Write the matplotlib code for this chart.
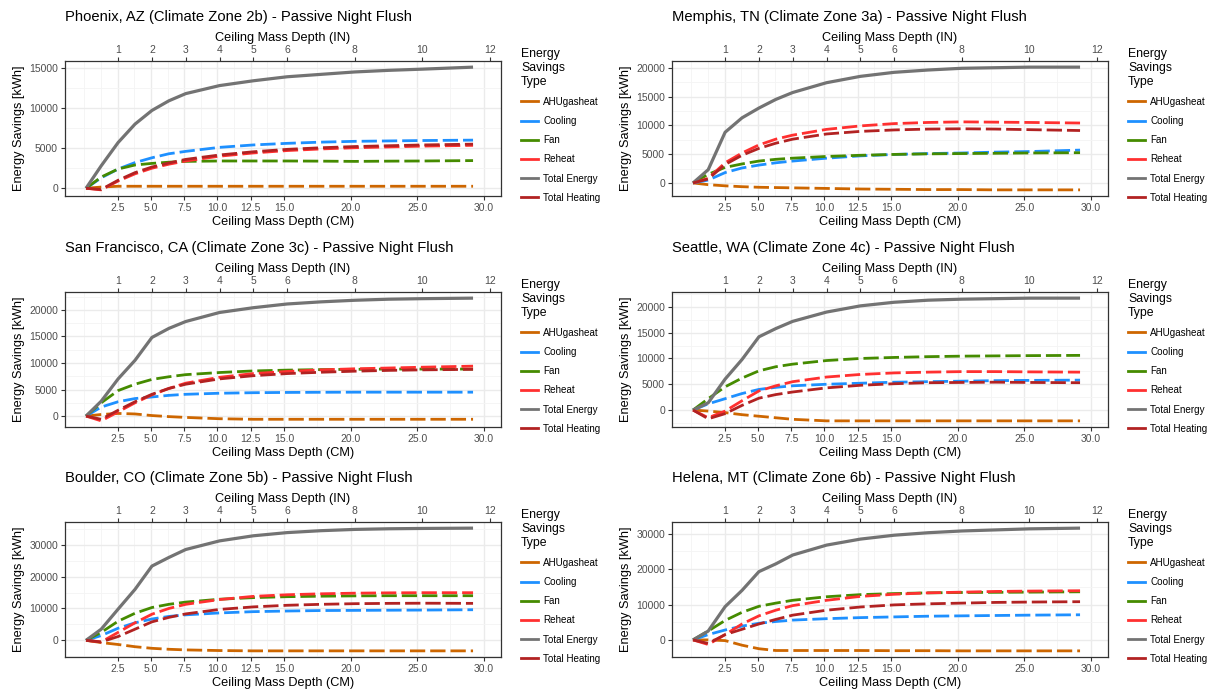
import matplotlib.pyplot as plt
from matplotlib.lines import Line2D
import numpy as np

# ceiling mass depths simulated (cm)
depth_cm = [0.13, 1.27, 2.54, 3.81, 5.08, 6.35, 7.62, 10.16, 12.7, 15.24, 17.78, 20.32, 22.86, 25.4, 29.2]

types = ['AHUgasheat', 'Cooling', 'Fan', 'Reheat', 'Total Energy', 'Total Heating']
colors = ['#CD6600', '#1E90FF', '#458B00', '#FF3030', '#737373', '#B22222']

cities = ['Phoenix, AZ (Climate Zone 2b)', 'Memphis, TN (Climate Zone 3a)',
          'San Francisco, CA (Climate Zone 3c)', 'Seattle, WA (Climate Zone 4c)',
          'Boulder, CO (Climate Zone 5b)', 'Helena, MT (Climate Zone 6b)']

# savings in kWh, one list per type, same order as depth_cm
phoenix = {
    'AHUgasheat':    [0, 150, 250, 250, 250, 250, 250, 250, 250, 250, 250, 250, 250, 250, 250],
    'Cooling':       [0, 1300, 2400, 3200, 3800, 4300, 4600, 5100, 5400, 5600, 5750, 5850, 5900, 5950, 6000],
    'Fan':           [0, 1400, 2400, 2900, 3100, 3250, 3350, 3400, 3400, 3400, 3380, 3350, 3380, 3400, 3450],
    'Reheat':        [0, -200, 900, 1800, 2500, 3000, 3400, 4000, 4400, 4700, 4900, 5050, 5150, 5250, 5350],
    'Total Energy':  [0, 2800, 5700, 8000, 9700, 10900, 11800, 12800, 13400, 13900, 14200, 14500, 14700, 14850, 15100],
    'Total Heating': [0, -150, 1000, 1950, 2650, 3150, 3600, 4150, 4550, 4850, 5050, 5200, 5300, 5400, 5500],
}
memphis = {
    'AHUgasheat':    [0, -300, -500, -650, -750, -800, -850, -950, -1050, -1100, -1150, -1150, -1200, -1200, -1200],
    'Cooling':       [0, 500, 1800, 2600, 3100, 3500, 3800, 4300, 4700, 4950, 5100, 5200, 5350, 5450, 5700],
    'Fan':           [0, 1500, 2700, 3300, 3800, 4100, 4300, 4600, 4800, 4950, 5050, 5100, 5150, 5200, 5250],
    'Reheat':        [0, 800, 3500, 5200, 6600, 7600, 8300, 9300, 9900, 10300, 10500, 10600, 10550, 10500, 10400],
    'Total Energy':  [0, 2300, 8800, 11300, 13000, 14500, 15700, 17400, 18500, 19200, 19600, 19900, 20000, 20100, 20100],
    'Total Heating': [0, 700, 3200, 4800, 6000, 6900, 7600, 8500, 8950, 9200, 9350, 9400, 9350, 9250, 9100],
}
san_francisco = {
    'AHUgasheat':    [0, 300, 500, 400, 100, -100, -250, -500, -600, -600, -600, -600, -600, -600, -600],
    'Cooling':       [0, 1700, 2700, 3300, 3600, 3900, 4100, 4300, 4400, 4450, 4480, 4500, 4500, 4500, 4500],
    'Fan':           [0, 2500, 4800, 6000, 6900, 7400, 7800, 8200, 8500, 8650, 8750, 8800, 8850, 8850, 8850],
    'Reheat':        [0, -900, 800, 2500, 4000, 5200, 6200, 7300, 8000, 8400, 8700, 8900, 9050, 9200, 9400],
    'Total Energy':  [0, 2800, 7000, 10500, 14800, 16500, 17800, 19500, 20400, 21100, 21500, 21800, 22000, 22100, 22200],
    'Total Heating': [0, -600, 1100, 2700, 4100, 5200, 6000, 7000, 7600, 8000, 8250, 8450, 8600, 8700, 8800],
}
seattle = {
    'AHUgasheat':    [0, -200, -500, -900, -1200, -1500, -1800, -2100, -2100, -2100, -2100, -2100, -2100, -2100, -2100],
    'Cooling':       [0, 1200, 2200, 3200, 4000, 4400, 4700, 5000, 5200, 5400, 5500, 5600, 5700, 5750, 5800],
    'Fan':           [0, 2200, 4500, 6200, 7600, 8400, 8900, 9600, 10000, 10200, 10350, 10450, 10500, 10550, 10600],
    'Reheat':        [0, -1500, -200, 1800, 3700, 4700, 5500, 6400, 6900, 7200, 7350, 7450, 7450, 7400, 7350],
    'Total Energy':  [0, 1400, 6000, 9800, 14200, 15800, 17200, 19000, 20200, 20900, 21300, 21500, 21600, 21700, 21700],
    'Total Heating': [0, -1700, -700, 900, 2300, 3000, 3500, 4300, 4800, 5100, 5300, 5350, 5400, 5350, 5300],
}
boulder = {
    'AHUgasheat':    [0, -700, -1300, -2000, -2500, -2800, -3000, -3200, -3300, -3300, -3300, -3300, -3300, -3300, -3300],
    'Cooling':       [0, 1500, 3800, 5500, 6700, 7500, 8000, 8600, 9000, 9200, 9350, 9400, 9450, 9500, 9600],
    'Fan':           [0, 2500, 6000, 8500, 10300, 11300, 12000, 12900, 13400, 13700, 13850, 13950, 14000, 14000, 14000],
    'Reheat':        [0, -500, 2500, 5500, 8200, 10000, 11300, 12800, 13800, 14300, 14600, 14800, 14900, 14950, 14950],
    'Total Energy':  [0, 3500, 9800, 16000, 23300, 26000, 28500, 31200, 32800, 33800, 34400, 34800, 35000, 35100, 35200],
    'Total Heating': [0, -500, 1200, 3500, 5800, 7200, 8300, 9700, 10500, 11000, 11300, 11500, 11600, 11650, 11600],
}
helena = {
    'AHUgasheat':    [0, 0, -200, -1500, -2500, -3000, -3000, -3000, -3000, -3050, -3050, -3100, -3100, -3100, -3100],
    'Cooling':       [0, 1500, 2800, 3900, 4700, 5200, 5600, 6000, 6300, 6500, 6700, 6800, 6900, 7000, 7100],
    'Fan':           [0, 2500, 5500, 7800, 9500, 10400, 11200, 12200, 12800, 13100, 13300, 13400, 13450, 13500, 13600],
    'Reheat':        [0, -1300, 1500, 4500, 6800, 8400, 9700, 11200, 12300, 12900, 13300, 13500, 13700, 13800, 13900],
    'Total Energy':  [0, 2500, 9400, 14000, 19300, 21500, 24000, 26800, 28500, 29600, 30300, 30800, 31100, 31400, 31600],
    'Total Heating': [0, -1000, 1500, 3000, 4500, 5800, 7000, 8400, 9300, 9900, 10200, 10400, 10600, 10700, 10800],
}
savings = [phoenix, memphis, san_francisco, seattle, boulder, helena]
y_step = [5000, 5000, 5000, 5000, 10000, 10000]

cm_ticks = [2.5, 5.0, 7.5, 10.0, 12.5, 15.0, 20.0, 25.0, 30.0]
cm_minor = [0, 1.25, 3.75, 6.25, 8.75, 11.25, 13.75, 17.5, 22.5, 27.5]
in_ticks = [1, 2, 3, 4, 5, 6, 8, 10, 12]

plt.rcParams['font.family'] = ['Liberation Sans', 'DejaVu Sans']

W, H = 1217, 694
fig = plt.figure(figsize=(W / 100, H / 100), dpi=100)

lefts = [65, 672]
tops = [61, 292, 522]
pw, ph = 436, 135

for i, city in enumerate(cities):
    col, row = i % 2, i // 2
    ax = fig.add_axes([lefts[col] / W, 1 - (tops[row] + ph) / H, pw / W, ph / H])
    data = savings[i]

    for t, c in zip(types, colors):
        if t == 'Total Energy':
            ax.plot(depth_cm, data[t], color=c, lw=2.3, solid_capstyle='butt', zorder=3)
        else:
            ax.plot(depth_cm, data[t], color=c, lw=2.0, dashes=(5.5, 1.8), zorder=3)

    step = y_step[i]
    allv = np.concatenate([data[t] for t in types])
    lo, hi = allv.min(), allv.max()
    yt = np.arange(0, hi + 1, step)
    ax.set_yticks(yt)
    ax.set_yticklabels([f'{int(v)}' for v in yt])
    ax.set_yticks(np.arange(-step / 2, hi + step, step), minor=True)
    ax.set_xticks(cm_ticks)
    ax.set_xticklabels([f'{v:.1f}' for v in cm_ticks])
    ax.set_xticks(cm_minor, minor=True)

    # 5% padding around the data range
    pad = (hi - lo) * 0.05
    ax.set_ylim(lo - pad, hi + pad)
    ax.set_xlim(-1.45, 31.3)

    ax.grid(True, which='major', color='#EBEBEB', lw=1.0, zorder=0)
    ax.grid(True, which='minor', color='#F4F4F4', lw=0.6, zorder=0)
    ax.set_axisbelow(True)
    ax.tick_params(which='minor', length=0)
    ax.tick_params(which='major', length=3, width=0.8, color='#333333',
                   labelsize=7.5, labelcolor='#4D4D4D', pad=2)
    for s in ax.spines.values():
        s.set_color('#333333')
        s.set_linewidth(0.9)

    ax.set_xlabel('Ceiling Mass Depth (CM)', fontsize=9.2, labelpad=2)
    ax.set_ylabel('Energy Savings [kWh]', fontsize=9.2, labelpad=3)
    ax.set_title(f'{city} - Passive Night Flush', fontsize=10.6, loc='left', pad=29)

    top = ax.secondary_xaxis('top', functions=(lambda x: x / 2.54, lambda x: x * 2.54))
    top.set_xticks(in_ticks)
    top.set_xticklabels([str(v) for v in in_ticks])
    top.tick_params(length=3, width=0.8, color='#333333', labelsize=7.5,
                    labelcolor='#4D4D4D', pad=1)
    top.spines['top'].set_visible(False)
    top.set_xlabel('Ceiling Mass Depth (IN)', fontsize=9.2, labelpad=3)

    handles = [Line2D([], [], color=c, lw=2.0) for c in colors]
    leg = ax.legend(handles, types, title='Energy\nSavings\nType', loc='upper left',
                    bbox_to_anchor=(1.037, 1.125), frameon=False, fontsize=7.1,
                    title_fontsize=8.8, handlelength=1.75, handletextpad=0.5,
                    labelspacing=0.93, borderaxespad=0)
    leg._legend_box.align = 'left'

fig.savefig('out.png', dpi=100)
